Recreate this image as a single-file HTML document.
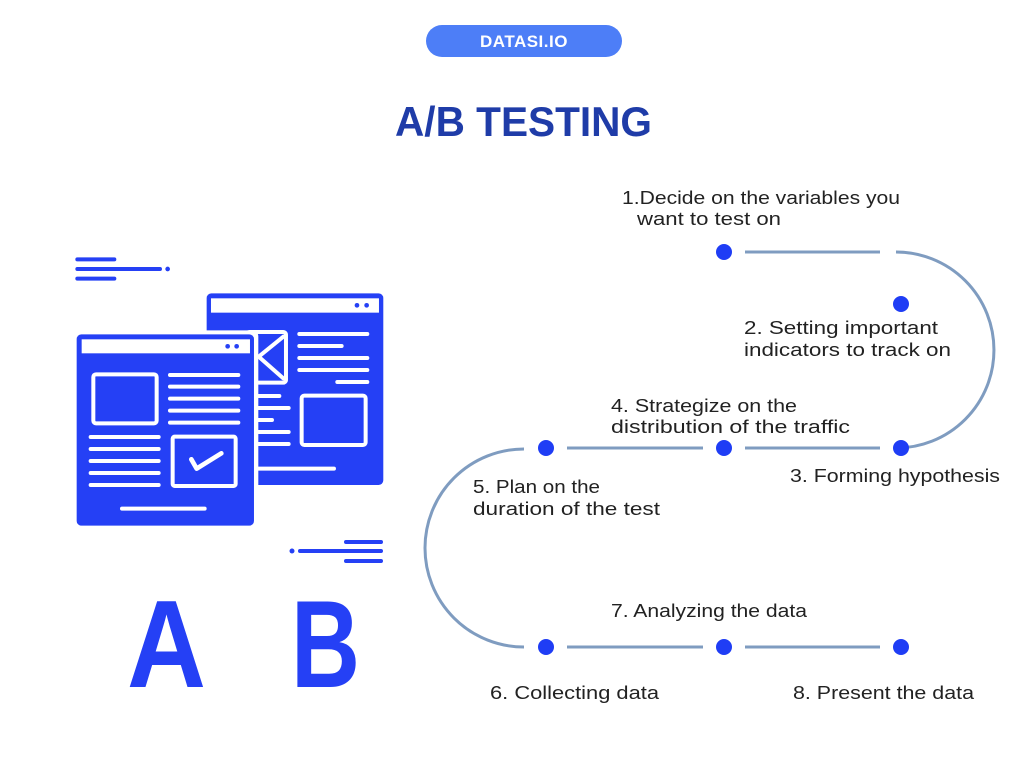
<!DOCTYPE html>
<html><head><meta charset="utf-8"><style>
html,body{margin:0;padding:0;background:#fff;}
svg{display:block;}
text{font-family:"Liberation Sans",sans-serif;}
</style></head><body>
<svg width="1024" height="768" viewBox="0 0 1024 768" xmlns="http://www.w3.org/2000/svg">
<rect x="0" y="0" width="1024" height="768" fill="#fff"/>
<rect x="426" y="25" width="196" height="32" rx="16" fill="#4d7ef7"/>
<text x="524" y="47" text-anchor="middle" fill="#fff" font-weight="bold" font-size="17" letter-spacing="0.5">DATASI.IO</text>
<text x="395" y="136" fill="#1f3ca8" font-weight="bold" font-size="42" textLength="257" lengthAdjust="spacingAndGlyphs">A/B TESTING</text>

<!-- icon -->
<g transform="translate(60 240) scale(0.3333)" stroke-linecap="round" stroke-linejoin="round">
  <g stroke="#2540f5" stroke-width="12" fill="none">
    <line x1="52" y1="58" x2="163" y2="58"/>
    <line x1="52" y1="87" x2="300" y2="87"/>
    <line x1="52" y1="116" x2="163" y2="116"/>
  </g>
  <circle cx="323" cy="87" r="7" fill="#2540f5"/>
  <rect x="440" y="160" width="530" height="575" rx="14" fill="#2540f5"/>
  <rect x="453" y="175" width="504" height="43" fill="#fff"/>
  <circle cx="891" cy="196" r="7" fill="#2540f5"/><circle cx="920" cy="196" r="7" fill="#2540f5"/>
  <g stroke="#fff" stroke-width="12" fill="none">
    <rect x="560" y="276" width="118" height="152" rx="8"/>
    <polyline points="670,290 596,350 670,415"/>
    <line x1="718" y1="282" x2="922" y2="282"/>
    <line x1="718" y1="318" x2="845" y2="318"/>
    <line x1="718" y1="354" x2="922" y2="354"/>
    <line x1="718" y1="390" x2="922" y2="390"/>
    <line x1="832" y1="426" x2="922" y2="426"/>
    <rect x="725" y="467" width="192" height="148" rx="8"/>
    <line x1="570" y1="468" x2="658" y2="468"/>
    <line x1="570" y1="504" x2="686" y2="504"/>
    <line x1="570" y1="540" x2="636" y2="540"/>
    <line x1="570" y1="576" x2="686" y2="576"/>
    <line x1="570" y1="612" x2="686" y2="612"/>
    <line x1="570" y1="686" x2="822" y2="686"/>
  </g>
  <rect x="39" y="271" width="556" height="598" rx="18" fill="#fff"/>
  <rect x="50" y="283" width="532" height="574" rx="14" fill="#2540f5"/>
  <rect x="65" y="298" width="505" height="42" fill="#fff"/>
  <circle cx="503" cy="319" r="7" fill="#2540f5"/><circle cx="530" cy="319" r="7" fill="#2540f5"/>
  <g stroke="#fff" stroke-width="12" fill="none">
    <rect x="100" y="403" width="190" height="147" rx="8"/>
    <line x1="330" y1="405" x2="535" y2="405"/>
    <line x1="330" y1="440" x2="535" y2="440"/>
    <line x1="330" y1="476" x2="535" y2="476"/>
    <line x1="330" y1="512" x2="535" y2="512"/>
    <line x1="330" y1="548" x2="535" y2="548"/>
    <line x1="92" y1="591" x2="296" y2="591"/>
    <line x1="92" y1="627" x2="296" y2="627"/>
    <line x1="92" y1="663" x2="296" y2="663"/>
    <line x1="92" y1="699" x2="296" y2="699"/>
    <line x1="92" y1="735" x2="296" y2="735"/>
    <rect x="338" y="590" width="189" height="148" rx="6"/>
    <polyline points="394,658 410,686 484,640" stroke-width="14"/>
    <line x1="186" y1="806" x2="434" y2="806"/>
  </g>
</g>
<g stroke="#2540f5" stroke-width="4" stroke-linecap="round">
  <line x1="346" y1="542" x2="381" y2="542"/>
  <line x1="300" y1="551" x2="381" y2="551"/>
  <line x1="346" y1="561" x2="381" y2="561"/>
</g>
<circle cx="292" cy="551" r="2.5" fill="#2540f5"/>
<text x="127" y="687" fill="#2540f5" font-weight="bold" font-size="124" textLength="79" lengthAdjust="spacingAndGlyphs">A</text>
<text x="291" y="687" fill="#2540f5" font-weight="bold" font-size="124" textLength="69" lengthAdjust="spacingAndGlyphs">B</text>

<!-- path -->
<g stroke="#7f9cc0" stroke-width="3" fill="none">
  <line x1="745" y1="252" x2="880" y2="252"/>
  <path d="M896 252 A98 98 0 0 1 896 448"/>
  <line x1="567" y1="448" x2="703" y2="448"/>
  <line x1="745" y1="448" x2="880" y2="448"/>
  <path d="M524 449 A99 99 0 0 0 524 647"/>
  <line x1="567" y1="647" x2="703" y2="647"/>
  <line x1="745" y1="647" x2="880" y2="647"/>
</g>
<g fill="#1f3df5">
  <circle cx="724" cy="252" r="8"/>
  <circle cx="901" cy="304" r="8"/>
  <circle cx="901" cy="448" r="8"/>
  <circle cx="724" cy="448" r="8"/>
  <circle cx="546" cy="448" r="8"/>
  <circle cx="546" cy="647" r="8"/>
  <circle cx="724" cy="647" r="8"/>
  <circle cx="901" cy="647" r="8"/>
</g>
<g fill="#222" font-size="18.5">
  <text x="622" y="204" textLength="278" lengthAdjust="spacingAndGlyphs">1.Decide on the variables you</text>
  <text x="637" y="225" textLength="144" lengthAdjust="spacingAndGlyphs">want to test on</text>
  <text x="744" y="334" textLength="194" lengthAdjust="spacingAndGlyphs">2. Setting important</text>
  <text x="744" y="356" textLength="207" lengthAdjust="spacingAndGlyphs">indicators to track on</text>
  <text x="790" y="482" textLength="210" lengthAdjust="spacingAndGlyphs">3. Forming hypothesis</text>
  <text x="611" y="412" textLength="186" lengthAdjust="spacingAndGlyphs">4. Strategize on the</text>
  <text x="611" y="433" textLength="239" lengthAdjust="spacingAndGlyphs">distribution of the traffic</text>
  <text x="473" y="493" textLength="127" lengthAdjust="spacingAndGlyphs">5. Plan on the</text>
  <text x="473" y="515" textLength="187" lengthAdjust="spacingAndGlyphs">duration of the test</text>
  <text x="490" y="699" textLength="169" lengthAdjust="spacingAndGlyphs">6. Collecting data</text>
  <text x="611" y="617" textLength="196" lengthAdjust="spacingAndGlyphs">7. Analyzing the data</text>
  <text x="793" y="699" textLength="181" lengthAdjust="spacingAndGlyphs">8. Present the data</text>
</g>
</svg>
</body></html>
